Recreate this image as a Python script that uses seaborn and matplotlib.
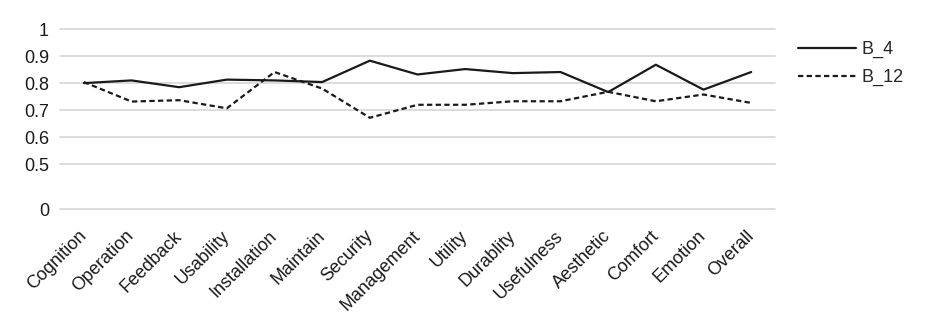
import numpy as np
import pandas as pd
import matplotlib
matplotlib.use("Agg")
import matplotlib.pyplot as plt
import matplotlib.transforms as mtransforms
import seaborn as sns

aspects = ["Cognition", "Operation", "Feedback", "Usability", "Installation",
           "Maintain", "Security", "Management", "Utility", "Durablity",
           "Usefulness", "Aesthetic", "Comfort", "Emotion", "Overall"]
b4 = [0.80, 0.81, 0.785, 0.813, 0.81, 0.804, 0.883, 0.832, 0.852, 0.837,
      0.841, 0.767, 0.868, 0.776, 0.841]
b12 = [0.804, 0.732, 0.737, 0.707, 0.841, 0.78, 0.672, 0.72, 0.72, 0.733,
       0.733, 0.768, 0.733, 0.758, 0.727]
series_names = ["B_4", "B_12"]
y_ticks = [0, 0.5, 0.6, 0.7, 0.8, 0.9, 1.0]
y_tick_labels = ["0", "0.5", "0.6", "0.7", "0.8", "0.9", "1"]

df = pd.DataFrame({
    "aspect": aspects * 2,
    "score": b4 + b12,
    "series": [series_names[0]] * len(aspects) + [series_names[1]] * len(aspects),
})

sns.set_theme(style="white")
plt.rcParams["font.family"] = ["Liberation Sans", "DejaVu Sans"]

fig = plt.figure(figsize=(9.27, 3.34), dpi=100)
ax = fig.add_axes([60 / 927, 1 - 209 / 334, 715 / 927, 180 / 334])

# compressed segment below 0.5 so the interesting range gets the room
BREAK, LOW = 0.5, 0.335
def fwd(v):
    v = np.asarray(v, dtype=float)
    return np.where(v >= BREAK, v, LOW + v * (BREAK - LOW) / BREAK)
def inv(v):
    v = np.asarray(v, dtype=float)
    return np.where(v >= BREAK, v, (v - LOW) * BREAK / (BREAK - LOW))
ax.set_yscale("function", functions=(fwd, inv))

sns.lineplot(data=df, x="aspect", y="score", style="series",
             dashes={"B_4": "", "B_12": (2.4, 1.5)}, color="#1a1a1a",
             linewidth=1.6, ax=ax, sort=False)

ax.set_xlim(-0.5, len(aspects) - 0.5)
ax.set_ylim(0, 1.0)
ax.set_yticks(y_ticks)
ax.set_yticklabels(y_tick_labels)
for y in y_ticks:
    ax.axhline(y, color="#d9d9d9", linewidth=1.3, zorder=0, clip_on=False)
for s in ax.spines.values():
    s.set_visible(False)
ax.set_xlabel("")
ax.set_ylabel("")
ax.tick_params(axis="y", length=0, pad=8, labelsize=13, labelcolor="#1a1a1a")
ax.tick_params(axis="x", length=0, pad=6, labelsize=13, labelcolor="#1a1a1a")
shift = mtransforms.ScaledTranslation(-0.06, -0.10, fig.dpi_scale_trans)
for lbl in ax.get_xticklabels():
    lbl.set_rotation(45)
    lbl.set_ha("right")
    lbl.set_rotation_mode("anchor")
    lbl.set_transform(lbl.get_transform() + shift)

handles, labels = ax.get_legend_handles_labels()
leg = ax.legend(handles, labels, loc="upper left",
                bbox_to_anchor=(791 / 927, 1 - 34 / 334),
                bbox_transform=fig.transFigure, frameon=False, fontsize=13,
                handlelength=3.2, handletextpad=0.3, labelspacing=0.6,
                borderaxespad=0)

fig.savefig("out.png", dpi=100)
